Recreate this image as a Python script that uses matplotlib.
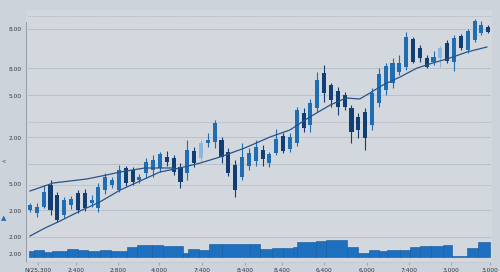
import numpy as np
import matplotlib
matplotlib.use('Agg')
import matplotlib.pyplot as plt

# candles (open, close, high, low) - one per session
opens  = [47, 44, 50, 72, 62, 42, 52, 64, 64, 54, 49, 67, 72, 67, 89, 87, 77, 84, 87, 89,
          100, 99, 90, 84, 106, 99, 114, 115, 117, 105, 92, 80, 91, 96, 107, 94, 104, 121, 108, 114,
          144, 132, 149, 184, 172, 166, 162, 149, 140, 145, 132, 154, 167, 174, 185, 190, 218, 209, 199, 195,
          199, 214, 195, 221, 207, 217, 224, 230]
closes = [52, 50, 65, 47, 37, 57, 58, 47, 49, 57, 70, 80, 77, 87, 74, 75, 80, 95, 97, 103,
          95, 85, 75, 107, 94, 114, 117, 134, 100, 84, 67, 100, 104, 110, 98, 103, 118, 106, 120, 147,
          129, 154, 177, 164, 157, 150, 150, 125, 127, 119, 164, 183, 191, 194, 194, 220, 195, 199, 190, 200,
          209, 196, 219, 209, 226, 236, 232, 225]
highs  = [54, 54, 72, 77, 65, 60, 61, 67, 68, 62, 74, 84, 80, 92, 91, 90, 83, 99, 102, 105,
          106, 102, 94, 117, 110, 117, 124, 137, 120, 109, 97, 114, 109, 117, 112, 105, 128, 124, 124, 150,
          149, 158, 185, 192, 174, 170, 165, 152, 144, 149, 169, 189, 194, 199, 202, 225, 220, 212, 202, 206,
          211, 217, 222, 223, 228, 238, 236, 232]
lows   = [45, 40, 49, 42, 35, 39, 48, 44, 46, 50, 45, 63, 69, 65, 71, 72, 74, 79, 80, 85,
          91, 82, 69, 77, 90, 96, 110, 109, 94, 81, 60, 77, 87, 91, 91, 90, 102, 104, 105, 111,
          125, 125, 145, 155, 150, 142, 147, 114, 119, 107, 127, 150, 162, 169, 182, 187, 194, 195, 189, 192,
          190, 194, 186, 207, 204, 215, 222, 224]

# moving averages
ma_slow_x = [0, 2.2, 4.4, 7.3, 10.2, 13.2, 16.1, 19, 21.9, 24.9, 27.8, 31.4, 35.1, 38, 40.9,
             43.9, 46.2, 48.2, 49.7, 51.6, 54.1, 56.6, 58.9, 61.4, 63.9, 66.8]
ma_slow = [21, 29, 36, 46, 55, 67, 76, 85, 89, 94, 100, 109, 120, 127, 140,
           152, 159, 158, 164, 172, 180, 189, 194, 199, 205, 210]
ma_fast_x = [0, 3.4, 8.3, 11.2, 13.2, 16.8, 21]
ma_fast = [66, 74, 78, 82, 85, 89, 89]

# volume blocks
vol_edges = [-0.15, 0.58, 2.05, 3.22, 5.41, 7.02, 8.48, 10.23, 11.84, 14.18, 15.64, 17.84, 19.44,
             22.37, 23.1, 24.71, 26.17, 28.07, 32.16, 33.63, 35.38, 36.99, 38.45, 39.04, 41.81,
             43.27, 46.35, 47.95, 49.56, 51.02, 52.19, 54.09, 55.56, 57.02, 58.63, 60.38, 61.7,
             63.89, 65.5, 67.25]
volume = [600, 700, 530, 630, 800, 730, 600, 700, 600, 1000, 1200, 1170, 1130, 430, 830, 670,
          1300, 1300, 1270, 770, 870, 870, 970, 1500, 1630, 1670, 970, 400, 700, 630, 700, 700,
          1030, 1130, 1130, 1230, 50, 930, 1470]

xtick_pos = [1.17, 6.73, 12.87, 18.86, 25.15, 31.43, 36.84, 42.98, 49.27, 55.41, 61.55, 67.2]
xtick_labels = ['N/25,300', '2:400', '2:800', '4:000', '7:400', '8:400', '8,400', '6,400',
                '6,000', '7:400', '3,000', '3,000']
ytick_pos = [228, 188, 161, 119, 73, 46, 20, 3]
ytick_labels = ['8.00', '8.00', '5.00', '2.00', '5.00', '2.00', '2.00', '2.00']
grid_solid = [228, 189, 162, 120, 93, 47, 20]
grid_dotted = [241, 135, 72]

up_col = '#1f6db3'
down_col = '#123f73'
pale_col = '#8db6dc'
faded = [25, 60]

fig = plt.figure(figsize=(5, 2.72), dpi=100, facecolor='#cdd3da')
ax = fig.add_axes([0.051, 0.0368, 0.931, 0.9265])
ax.set_facecolor('#d3d8de')
ax.set_xlim(-0.66, 67.4)
ax.set_ylim(-5, 247)

for y in grid_solid:
    ax.axhline(y, xmin=0.006, color='#b6bdc5', lw=0.6, zorder=0)
for y in grid_dotted:
    ax.axhline(y, xmin=0.006, color='#a9b0b9', lw=0.6, ls=(0, (1, 1)), zorder=0)

# volume on a twin axis
vx = ax.twinx()
vx.set_ylim(-500, 24700)
vx.bar(vol_edges[:-1], volume, width=np.diff(vol_edges), align='edge',
       color='#1d70c0', edgecolor='#15589a', linewidth=0.4, zorder=2)
vx.set_yticks([])
for s in vx.spines.values():
    s.set_visible(False)
ax.set_zorder(vx.get_zorder() + 1)
ax.patch.set_visible(False)
fig.patches.append(plt.Rectangle((0.051, 0.0368), 0.931, 0.9265, transform=fig.transFigure,
                                 color='#d3d8de', zorder=-10))

# candles
n = len(opens)
idx = np.arange(n)
o = np.array(opens)
c = np.array(closes)
cols = [pale_col if i in faded else (up_col if c[i] >= o[i] else down_col) for i in range(n)]
ax.vlines(idx, lows, highs, colors=cols, lw=0.8, zorder=3)
ax.bar(idx, np.abs(c - o), bottom=np.minimum(o, c), width=0.6, color=cols, zorder=4)

ax.plot(ma_slow_x, ma_slow, color='#27548a', lw=0.9, zorder=5)
ax.plot(ma_fast_x, ma_fast, color='#27548a', lw=0.9, zorder=5)

ax.set_xticks(xtick_pos)
ax.set_xticklabels(xtick_labels, fontsize=4.2, color='#333a44')
ax.set_yticks(ytick_pos)
ax.set_yticklabels(ytick_labels, fontsize=4.2, color='#333a44')
ax.tick_params(axis='x', length=2, width=0.5, color='#8a929c', pad=2)
ax.tick_params(axis='y', length=0, pad=3)
for s in ['top', 'right']:
    ax.spines[s].set_visible(False)
ax.spines['left'].set_color('#8a929c')
ax.spines['left'].set_linewidth(0.6)
ax.spines['left'].set_bounds(-5, 235)
ax.spines['bottom'].set_color('#bfc5cc')
ax.spines['bottom'].set_linewidth(0.5)

fig.text(0.006, 0.41, 'A', fontsize=3.5, color='#555c66', rotation=90, va='center')
fig.text(0.002, 0.198, '\u25b2', fontsize=5, color='#1f6db3', va='center')

fig.savefig('out.png', dpi=100, facecolor=fig.get_facecolor())
